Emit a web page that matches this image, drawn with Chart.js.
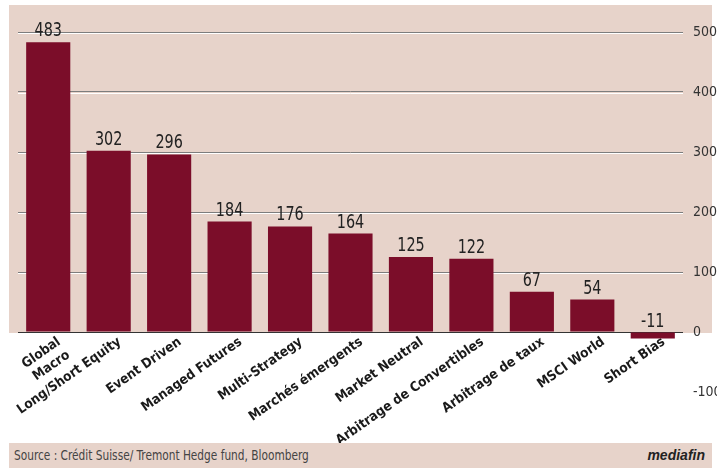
<!DOCTYPE html>
<html lang="fr">
<head>
  <meta charset="UTF-8">
  <title>Hedge funds - performances</title>
  <script src="https://cdn.jsdelivr.net/npm/chart.js"></script>
  <style>
    body { margin: 0; background: #fff; font-family: "Liberation Sans Narrow", "DejaVu Sans Condensed", sans-serif; }
    #wrap { position: relative; width: 717px; height: 470px; }
    #footer { position: absolute; left: 9px; top: 443px; width: 703px; height: 25px; background: #e7d3ca; }
    #source { position: absolute; left: 5px; top: 4px; font-size: 14px; color: #444; white-space: nowrap;
              transform: scaleX(0.84); transform-origin: left top; }
    #logo { position: absolute; right: 7px; top: 4px; font-size: 14px; font-weight: bold; font-style: italic; color: #222; font-family: "Liberation Sans", sans-serif; }
  </style>
</head>
<body>
  <div id="wrap">
    <canvas id="perfChart" width="717" height="443"></canvas>
    <div id="footer">
      <span id="source">Source : Crédit Suisse/ Tremont Hedge fund, Bloomberg</span>
      <span id="logo">mediafin</span>
    </div>
  </div>

  <script>
    const categories = [["Global", "Macro"], "Long/Short Equity", "Event Driven", "Managed Futures",
      "Multi-Strategy", "Marchés émergents", "Market Neutral", "Arbitrage de Convertibles",
      "Arbitrage de taux", "MSCI World", "Short Bias"];
    const values = [483, 302, 296, 184, 176, 164, 125, 122, 67, 54, -11];
    const tickValues = [-100, 0, 100, 200, 300, 400, 500];

    const NARROW = '"Liberation Sans Narrow", "DejaVu Sans Condensed", sans-serif';
    const PINK = "#e7d3ca";
    const BAR = "#7b0d29";

    // fond rose jusqu'a la ligne du zero, reflets blancs sous la grille, valeurs
    const decor = {
      id: "decor",
      beforeDraw(chart) {
        const { ctx, chartArea, scales: { y } } = chart;
        const zero = Math.round(y.getPixelForValue(0));
        ctx.save();
        ctx.fillStyle = PINK;
        ctx.fillRect(chartArea.left - 9, chartArea.top, chart.width - 5 - (chartArea.left - 9), zero + 1 - chartArea.top);
        ctx.restore();
      },
      beforeDatasetsDraw(chart) {
        const { ctx, chartArea, scales: { y } } = chart;
        ctx.save();
        ctx.strokeStyle = "#ffffff";
        ctx.lineWidth = 1;
        y.ticks.forEach(t => {
          if (t.value <= 0) return;
          const py = Math.round(y.getPixelForValue(t.value)) + 1.5;
          ctx.beginPath();
          ctx.moveTo(chartArea.left, py);
          ctx.lineTo(chartArea.right, py);
          ctx.stroke();
        });
        ctx.restore();
      },
      afterDatasetsDraw(chart) {
        const { ctx } = chart;
        const meta = chart.getDatasetMeta(0);
        ctx.save();
        ctx.font = "20px " + NARROW;
        ctx.fillStyle = "#222";
        ctx.textAlign = "center";
        ctx.textBaseline = "alphabetic";
        meta.data.forEach((bar, i) => {
          const v = values[i];
          const top = v >= 0 ? bar.y : bar.base;
          ctx.save();
          ctx.translate(bar.x, top - 6);
          ctx.scale(0.8, 1);
          ctx.fillText(String(v), 0, 0);
          ctx.restore();
        });
        ctx.restore();
      }
    };

    new Chart(document.getElementById("perfChart"), {
      type: "bar",
      data: {
        labels: categories,
        datasets: [{
          data: values,
          backgroundColor: BAR,
          categoryPercentage: 1,
          barPercentage: 0.73
        }]
      },
      options: {
        responsive: false,
        animation: false,
        layout: { padding: { top: 5, bottom: 51, left: 18, right: 0 } },
        plugins: { legend: { display: false }, tooltip: { enabled: false } },
        scales: {
          x: {
            position: { y: 0 },
            grid: { display: false, drawTicks: false },
            border: { display: false },
            ticks: {
              autoSkip: false,
              minRotation: 35,
              maxRotation: 35,
              labelOffset: 11,
              padding: 2,
              color: "#1a1a1a",
              font: { family: NARROW, size: 13.5, weight: "bold" }
            }
          },
          y: {
            position: "right",
            min: -100,
            max: 545,
            afterBuildTicks: s => { s.ticks = tickValues.map(v => ({ value: v })); },
            afterFit: s => { s.width = 34; s.paddingTop = 0; s.paddingBottom = 0; },
            grid: {
              drawTicks: false,
              color: c => c.tick.value === 0 ? "#333" : (c.tick.value < 0 ? "rgba(0,0,0,0)" : "#7d7d7d")
            },
            border: { display: false },
            ticks: {
              padding: 10,
              color: "#333",
              font: { family: NARROW, size: 14 }
            }
          }
        }
      },
      plugins: [decor]
    });
  </script>
</body>
</html>
